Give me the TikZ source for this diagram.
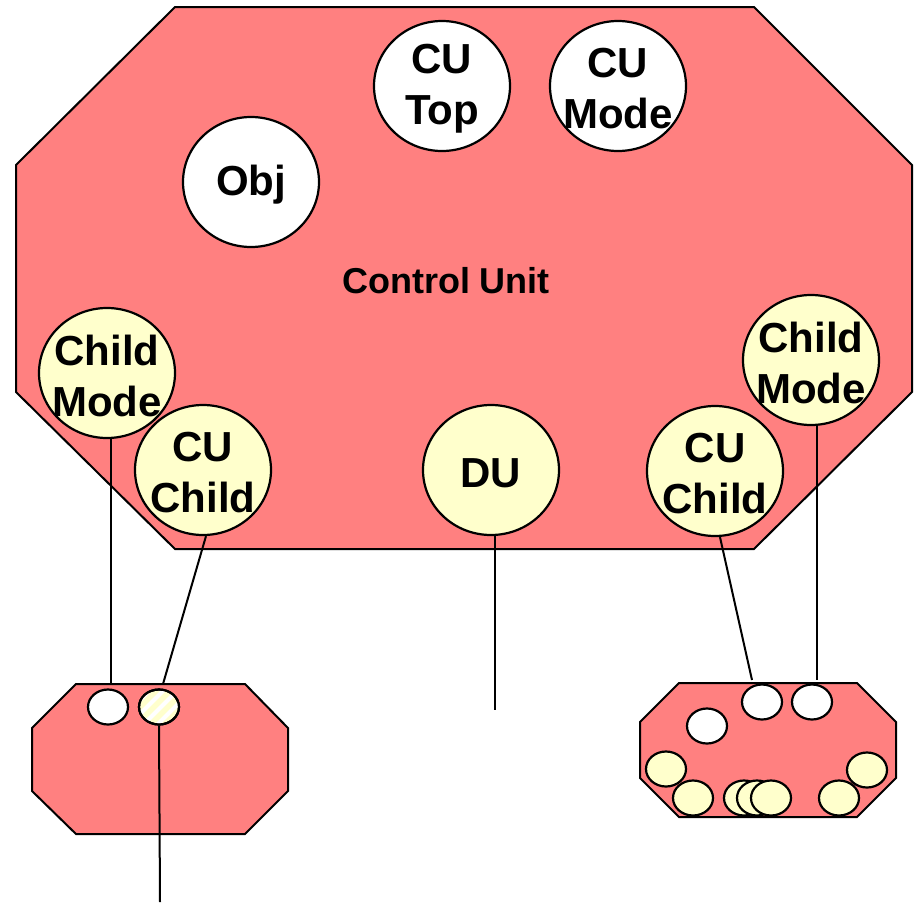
\documentclass[tikz,border=0pt]{standalone}
\usepackage{fontspec}
\setmainfont{Liberation Sans}
\usetikzlibrary{shapes.geometric}
\definecolor{cured}{RGB}{255,128,128}
\definecolor{cuyel}{RGB}{255,255,204}
\tikzset{
  octo/.style={draw=black, line width=2pt, fill=cured, line join=miter},
  bigc/.style={ellipse, draw=black, line width=2.2pt, minimum width=136pt, minimum height=130pt, inner sep=0pt},
  whitec/.style={bigc, fill=white},
  yelc/.style={bigc, fill=cuyel},
  ctext/.style={inner sep=0pt, align=center, yshift=-3pt, font=\bfseries\fontsize{42}{51}\selectfont},
  smallc/.style={ellipse, draw=black, line width=2.2pt, minimum width=40pt, minimum height=35pt, inner sep=0pt},
  swhite/.style={smallc, fill=white},
  syel/.style={smallc, fill=cuyel},
  conn/.style={draw=black, line width=2pt},
}
\begin{document}
\begin{tikzpicture}[x=1pt,y=-1pt]
\useasboundingbox (0,0) rectangle (916,903);
% main octagon
\draw[octo] (175,7) -- (754,7) -- (912,165) -- (912,392) -- (754,549) -- (175,549) -- (16,392) -- (16,165) -- cycle;
\node[font=\bfseries\fontsize{36}{44}\selectfont] (cu) at (446,281) {Control Unit};
\node[whitec] (cutop) at (442,86) {};
\node[ctext] (cutopt) at (cutop) {CU\\Top};
\node[whitec] (cumode) at (618,86) {};
\node[ctext] (cumodet) at (cumode) {CU\\Mode};
\node[whitec] (obj) at (251,182) {};
\node[ctext] (objt) at (obj) {Obj};
\node[yelc] (lcm) at (107,373) {};
\node[ctext] (lcmt) at (lcm) {Child\\Mode};
\node[yelc] (lcc) at (203,470) {};
\node[ctext] (lcct) at (lcc) {CU\\Child};
\node[yelc] (du) at (491,470) {};
\node[ctext] (dut) at (du) {DU};
\node[yelc] (rcc) at (715,471) {};
\node[ctext] (rcct) at (rcc) {CU\\Child};
\node[yelc] (rcm) at (811,360) {};
\node[ctext] (rcmt) at (rcm) {Child\\Mode};
% left small octagon
\draw[octo] (76,684) -- (245,684) -- (288,728) -- (288,791) -- (245,834) -- (76,834) -- (32,791) -- (32,728) -- cycle;
\node[swhite] (lw) at (108,707) {};
\node[syel] (ly) at (159,707) {};
\begin{scope}
  \clip (159,707) ellipse (19pt and 16.5pt);
  \foreach \d in {-40,-26,...,40} {
    \draw[white, line width=4pt] (159+\d-20,727) -- (159+\d+20,687);
  }
\end{scope}
\draw[black, line width=2.2pt] (ly) ellipse (20pt and 17.5pt);
% right small octagon
\draw[octo] (679,683) -- (857,683) -- (896,722) -- (896,778) -- (857,817) -- (679,817) -- (640,778) -- (640,722) -- cycle;
\node[swhite] (rw1) at (762,702) {};
\node[swhite] (rw2) at (812,702) {};
\node[swhite] (rw3) at (707,726) {};
\node[syel] (ry1) at (666,769) {};
\node[syel] (ry2) at (693,798) {};
\node[syel] (ry3) at (744,798) {};
\node[syel] (ry4) at (757,798) {};
\node[syel] (ry5) at (771,798) {};
\node[syel] (ry6) at (839,798) {};
\node[syel] (ry7) at (867,770) {};
% free ends
\coordinate (e1) at (111,684);
\coordinate (e2) at (163,684);
\coordinate (e3) at (495,710);
\coordinate (e4) at (752,680);
\coordinate (e5) at (817,680);
\coordinate (e6) at (160,902);
\draw[conn] ([xshift=4pt]lcm.south) -- (e1);
\draw[conn] ([xshift=3pt]lcc.south) -- (e2);
\draw[conn] ([xshift=4pt]du.south) -- (e3);
\draw[conn] ([xshift=5pt]rcc.south) -- (e4);
\draw[conn] ([xshift=6pt]rcm.south) -- (e5);
\draw[conn] (ly.south) -- (e6);
\end{tikzpicture}
\end{document}
